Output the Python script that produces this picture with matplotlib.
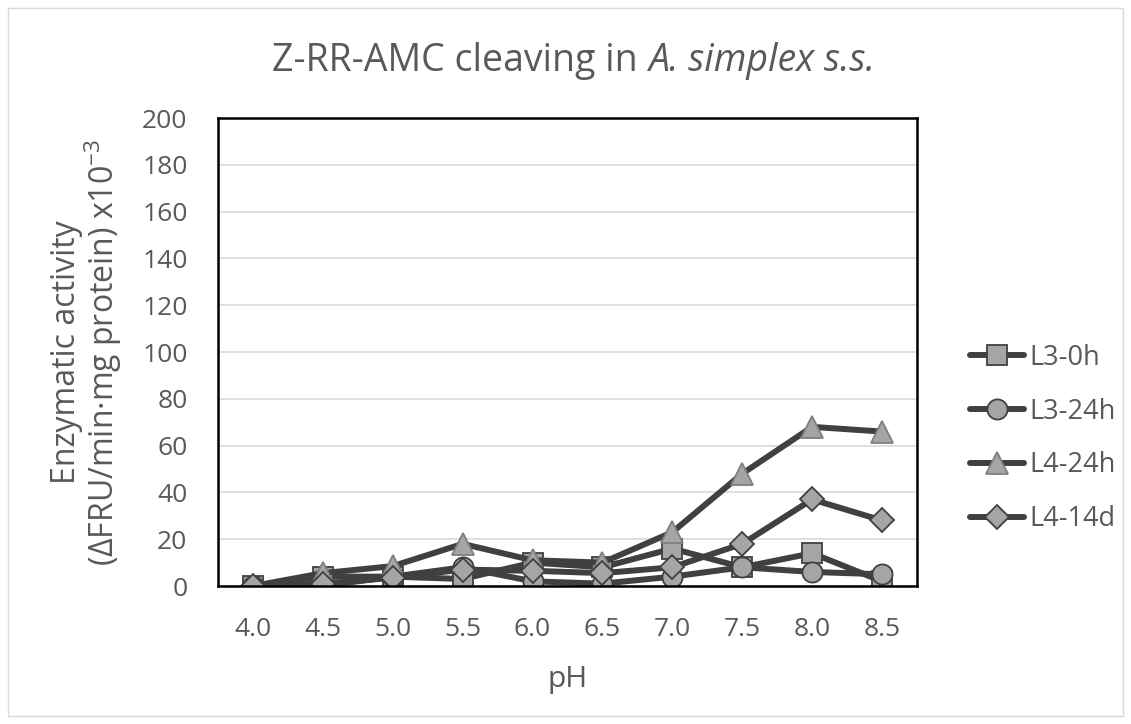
import matplotlib
matplotlib.use("Agg")
import matplotlib.pyplot as plt
from matplotlib.patches import Rectangle

plt.rcParams['font.family'] = ['Open Sans', 'DejaVu Sans']
plt.rcParams['mathtext.fontset'] = 'custom'
plt.rcParams['mathtext.rm'] = 'Open Sans'

ph = ["4.0", "4.5", "5.0", "5.5", "6.0", "6.5", "7.0", "7.5", "8.0", "8.5"]
l3_0h = [0, 4, 4, 3, 10, 8, 16, 8, 14, 2]
l3_24h = [0, 0, 4, 8, 2, 1, 4, 8, 6, 5]
l4_24h = [0, 5.5, 8.5, 18, 11, 10, 23, 48, 68, 66]
l4_14d = [0, 1, 3.5, 7, 6.5, 5.5, 8, 18, 37, 28]
series = [("L3-0h", l3_0h, "s"), ("L3-24h", l3_24h, "o"),
          ("L4-24h", l4_24h, "^"), ("L4-14d", l4_14d, "D")]

W, H = 1131, 724
fig = plt.figure(figsize=(W / 100, H / 100), dpi=100)
L, R, T, B = 218, 917, 118, 586
ax = fig.add_axes([L / W, 1 - B / H, (R - L) / W, (B - T) / H])

text_c = "#595959"
x = list(range(len(ph)))
line_c = "#404040"
face_c = "#a5a5a5"
styles = {"s": (14, line_c), "o": (14.5, line_c), "^": (15.5, "#7f7f7f"), "D": (12, line_c)}
for name, vals, m in series:
    ms, ec = styles[m]
    ax.plot(x, vals, color=line_c, lw=4.3, marker=m, ms=ms,
            markerfacecolor=face_c, markeredgecolor=ec, markeredgewidth=1.3,
            label=name, solid_capstyle="round")

ax.set_xlim(-0.5, len(ph) - 0.5)
ax.set_ylim(0, 200)
ax.set_yticks(range(0, 201, 20))
ax.set_xticks(x)
ax.set_xticklabels(ph)
ax.tick_params(axis='both', length=0, labelsize=19, colors=text_c)
ax.tick_params(axis='y', pad=22)
ax.tick_params(axis='x', pad=22)
ax.grid(axis='y', color="#d9d9d9", lw=1.2)
ax.set_axisbelow(True)
for s in ax.spines.values():
    s.set_color("black")
    s.set_linewidth(1.8)

fig.text((L + R) / 2 / W, 1 - 679 / H, "pH", ha="center", va="center",
         fontsize=21.5, color=text_c)
fig.text(87 / W, 1 - 352 / H,
         "Enzymatic activity\n(ΔFRU/min·mg protein) x10$^{-3}$",
         ha="center", va="center", rotation=90, fontsize=23, color=text_c,
         linespacing=1.0, multialignment="center")

# title: regular part + italic part, centred as one line
fig.canvas.draw()
rend = fig.canvas.get_renderer()
t1 = fig.text(0, 0, "Z-RR-AMC cleaving in ", fontsize=27, color=text_c, va="baseline")
t2 = fig.text(0, 0, "A. simplex s.s.", fontsize=27, color=text_c, style="italic", va="baseline")
w1 = t1.get_window_extent(rend).width
w2 = t2.get_window_extent(rend).width
cx = 573.5
x0 = cx - (w1 + w2) / 2
base = 1 - 71 / H
t1.set_position((x0 / W, base))
t2.set_position(((x0 + w1) / W, base))

leg = ax.legend(loc="center left", bbox_to_anchor=(956 / W, 1 - 438.5 / H),
                bbox_transform=fig.transFigure, frameon=False, borderpad=0,
                fontsize=19.5, labelcolor=text_c, handlelength=2.0,
                handletextpad=0.2, labelspacing=0.95)

fig.patches.append(Rectangle((8 / W, 8 / H), 1 - 16 / W, 1 - 16 / H, transform=fig.transFigure,
                             fill=False, edgecolor="#d9d9d9", lw=1))

fig.savefig("out.png", dpi=100)
